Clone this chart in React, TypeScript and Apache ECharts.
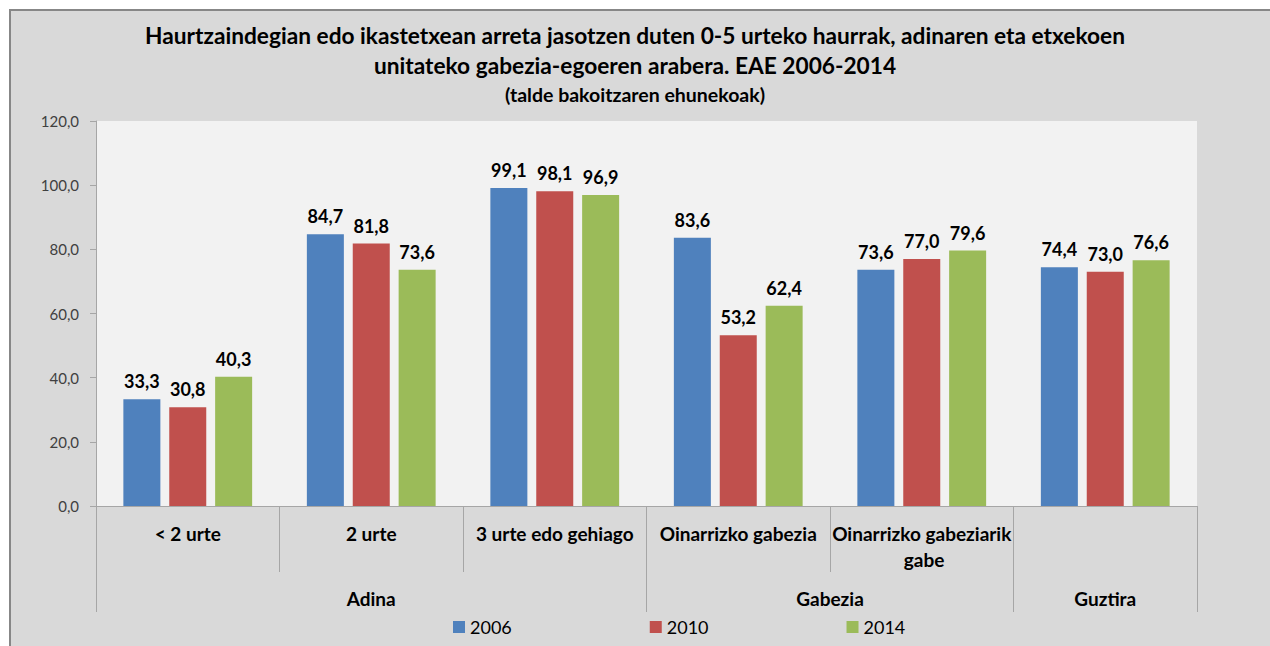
import React, { useEffect, useRef } from "react";
import * as echarts from "echarts";

const categories = ["< 2 urte", "2 urte", "3 urte edo gehiago", "Oinarrizko gabezia", "Oinarrizko gabeziarik gabe", ""];
const groups = ["Adina", "Gabezia", "Guztira"];
const groupCenters = [1.5, 4, 5.5];
const groupBounds = [0, 3, 5, 6];
const years = ["2006", "2010", "2014"];
const v2006 = [33.3, 84.7, 99.1, 83.6, 73.6, 74.4];
const v2010 = [30.8, 81.8, 98.1, 53.2, 77.0, 73.0];
const v2014 = [40.3, 73.6, 96.9, 62.4, 79.6, 76.6];
const colors = ["#4f81bd", "#c0504d", "#9bbb59"];
const yTicks = { min: 0, max: 120, interval: 20 };

const FONT = "Lato, 'Open Sans', sans-serif";
const fmt = (v: number) => v.toFixed(1).replace(".", ",");

export default function App() {
  const ref = useRef<HTMLDivElement>(null);
  useEffect(() => {
    document.body.style.margin = "0";
    const chart = echarts.init(ref.current!, null, { renderer: "svg" });
    const seriesData = [v2006, v2010, v2014];
    chart.setOption({
      animation: false,
      backgroundColor: "#ffffff",
      textStyle: { fontFamily: FONT },
      graphic: [
        {
          type: "rect",
          z: -10,
          silent: true,
          shape: { x: 10, y: 10, width: 1275, height: 650 },
          style: { fill: "#d9d9d9", stroke: "#878787", lineWidth: 2 },
        },
      ],
      title: {
        text: "Haurtzaindegian edo ikastetxean arreta jasotzen duten 0-5 urteko haurrak, adinaren eta etxekoen\nunitateko gabezia-egoeren arabera. EAE 2006-2014",
        subtext: "(talde bakoitzaren ehunekoak)",
        left: "center",
        top: 20,
        padding: [0, 0, 0, 10],
        itemGap: 3,
        textStyle: { fontFamily: FONT, fontWeight: "bold", fontSize: 22.7, lineHeight: 30, color: "#000" },
        subtextStyle: { fontFamily: FONT, fontWeight: "bold", fontSize: 19.5, lineHeight: 22, color: "#000" },
      },
      legend: {
        data: years,
        left: 453,
        top: 618,
        padding: 0,
        itemWidth: 12,
        itemHeight: 12,
        itemGap: 138,
        icon: "rect",
        textStyle: { fontFamily: FONT, fontSize: 18, color: "#000" },
      },
      grid: {
        left: 96,
        right: 73,
        top: 121,
        bottom: 140,
        show: true,
        backgroundColor: "#f2f2f2",
        borderWidth: 0,
        containLabel: false,
      },
      xAxis: [
        {
          type: "category",
          data: categories,
          axisLine: { show: true, lineStyle: { color: "#a6a6a6", width: 1 } },
          axisTick: { show: true, length: 66, interval: 0, lineStyle: { color: "#a6a6a6" } },
          axisLabel: {
            interval: 0,
            margin: 14,
            fontFamily: FONT,
            fontWeight: "bold",
            fontSize: 19,
            lineHeight: 26,
            color: "#000",
            width: 182,
            overflow: "break",
          },
        },
        {
          type: "value",
          position: "bottom",
          min: 0,
          max: 6,
          axisLine: { show: false },
          splitLine: { show: false },
          axisTick: { show: true, length: 106, customValues: groupBounds, lineStyle: { color: "#a6a6a6" } },
          axisLabel: {
            customValues: groupCenters,
            margin: 81,
            fontFamily: FONT,
            fontWeight: "bold",
            fontSize: 19,
            lineHeight: 22,
            color: "#000",
            formatter: (v: number) => groups[groupCenters.indexOf(v)] ?? "",
          },
        },
      ],
      yAxis: {
        type: "value",
        min: yTicks.min,
        max: yTicks.max,
        interval: yTicks.interval,
        axisLine: { show: true, lineStyle: { color: "#a6a6a6" } },
        axisTick: { show: true, length: 6, lineStyle: { color: "#a6a6a6" } },
        splitLine: { show: false },
        axisLabel: { margin: 17, fontFamily: FONT, fontSize: 15, color: "#404040", formatter: fmt },
      },
      series: years.map((y, i) => ({
        name: y,
        type: "bar",
        xAxisIndex: 0,
        data: seriesData[i],
        barWidth: 37,
        barGap: "24%",
        itemStyle: { color: colors[i] },
        label: {
          show: true,
          position: "top",
          distance: 9,
          fontFamily: FONT,
          fontWeight: "bold",
          fontSize: 18,
          color: "#000",
          formatter: (p: any) => fmt(p.value),
        },
      })),
    });
    return () => chart.dispose();
  }, []);
  return <div ref={ref} style={{ width: 1270, height: 646 }} />;
}
